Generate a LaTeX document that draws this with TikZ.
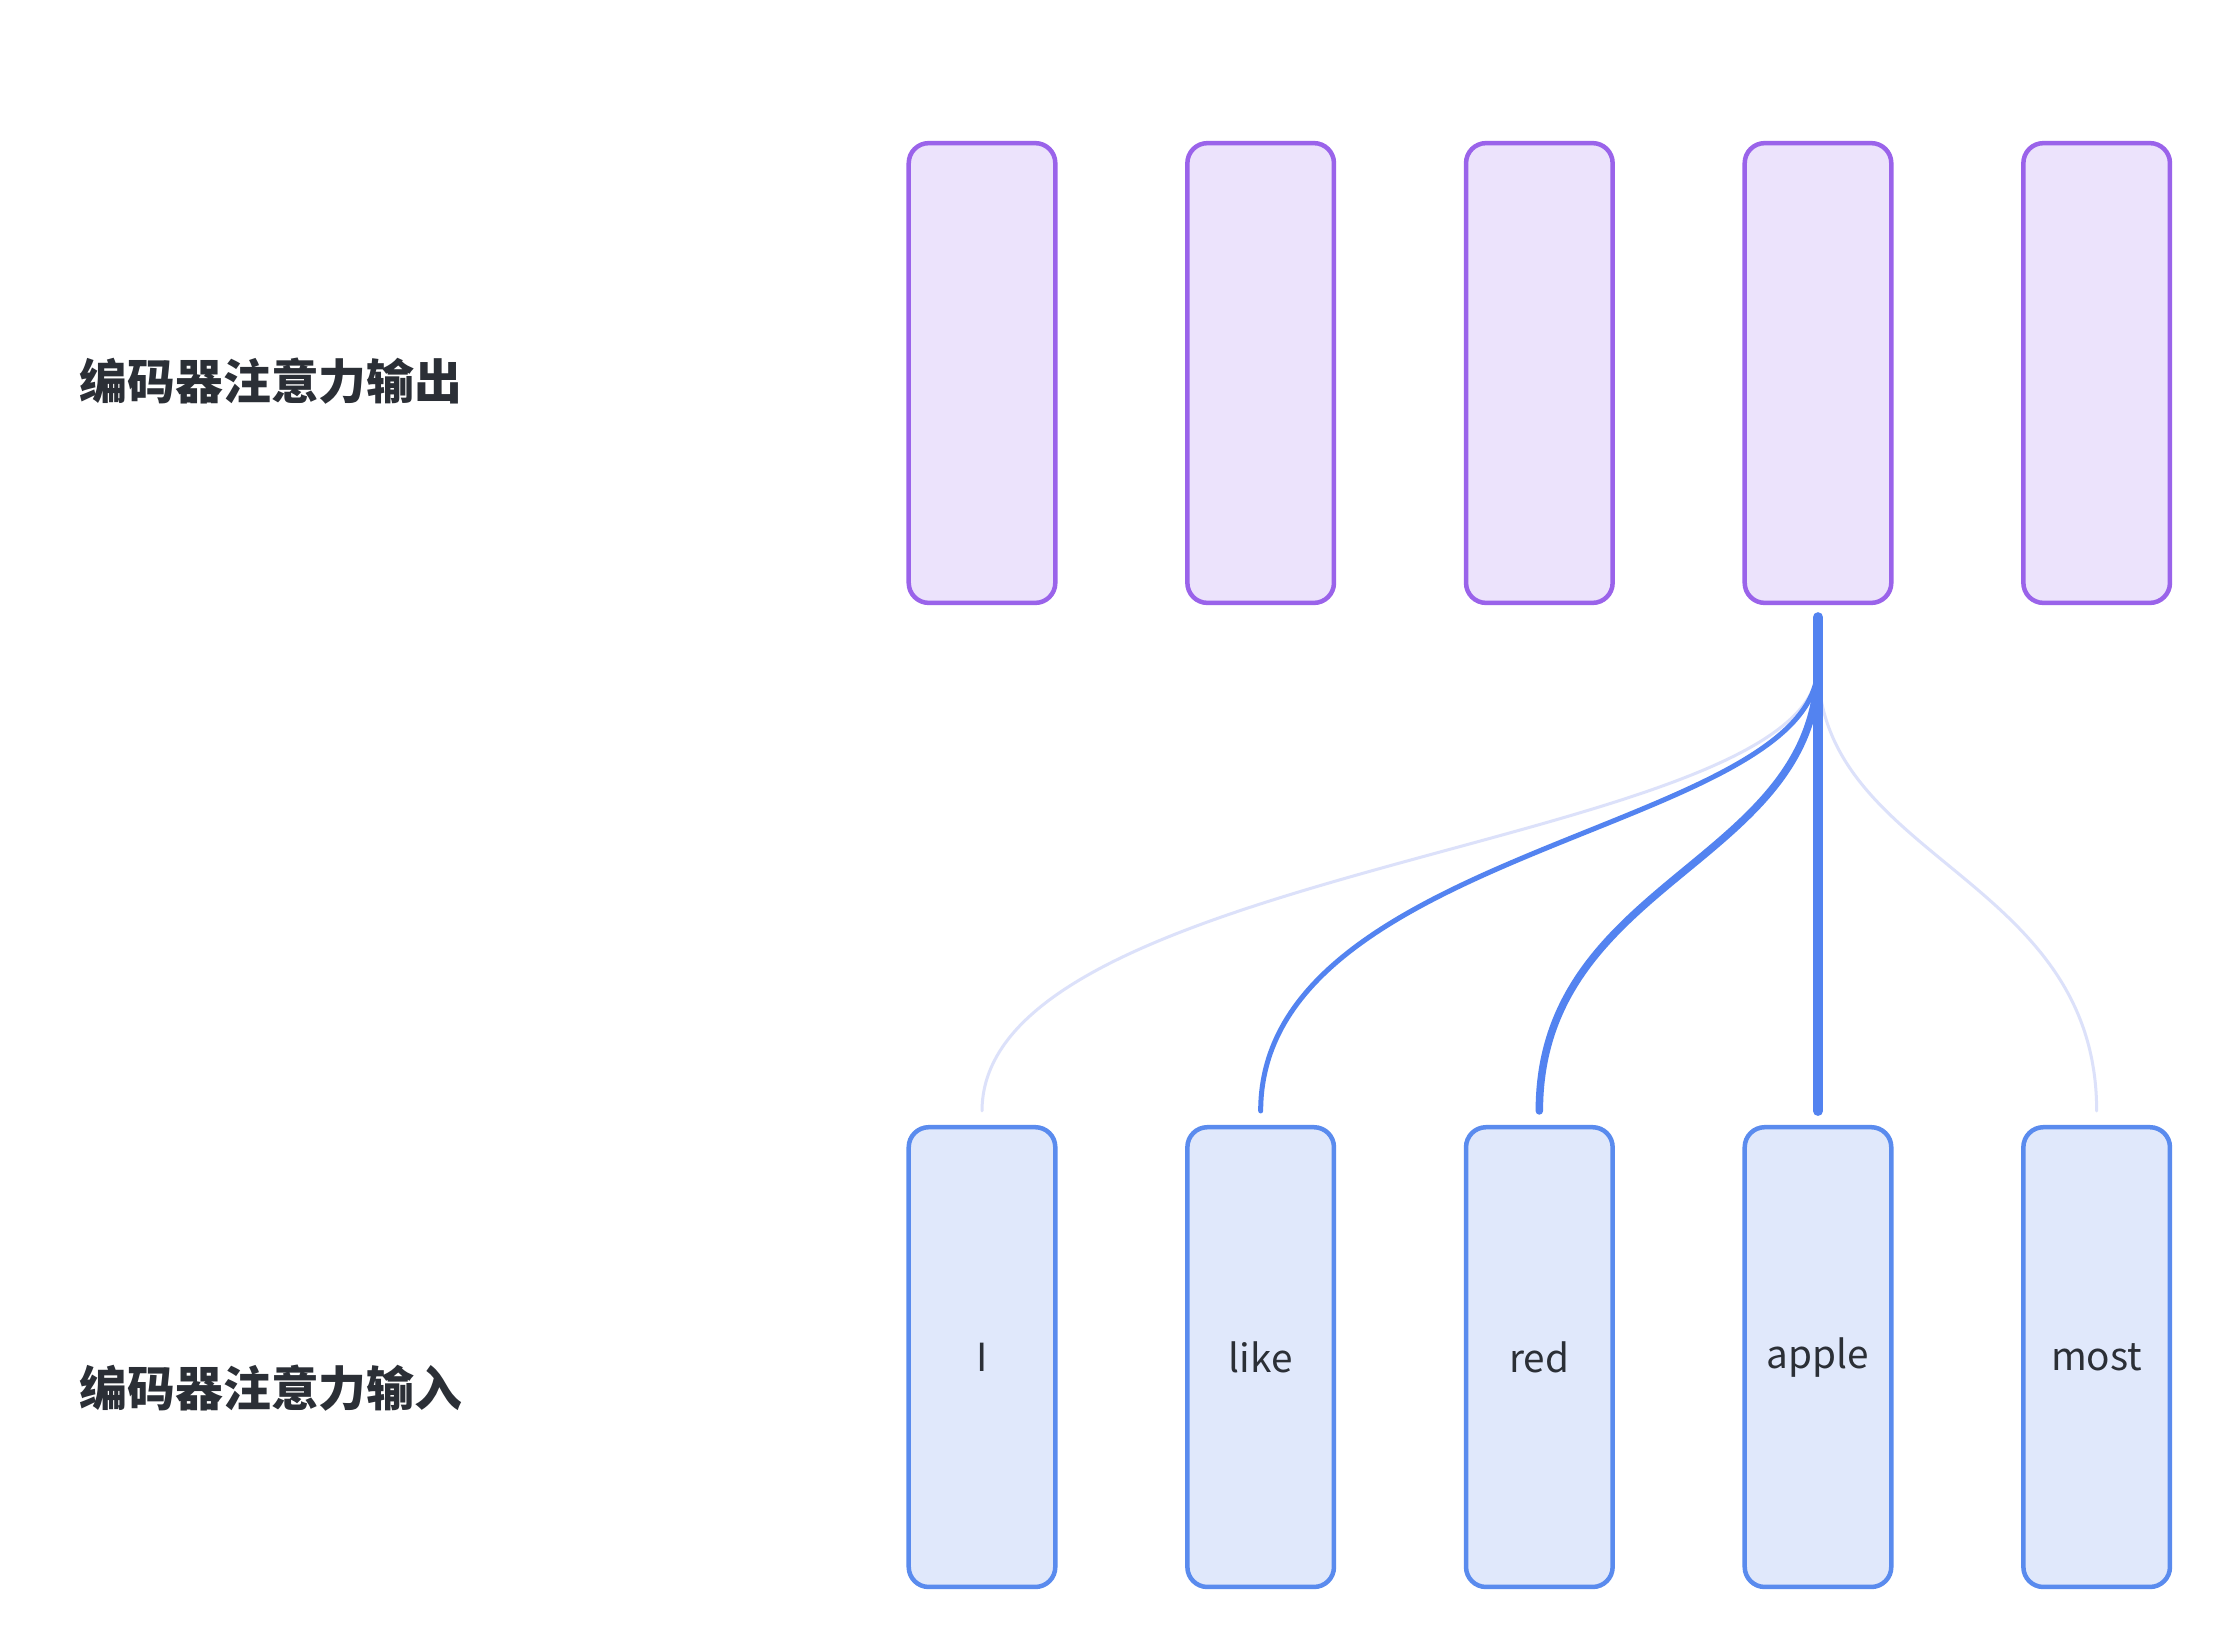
\documentclass[tikz,border=0pt]{standalone}
\usepackage{fontspec}
\setmainfont{Noto Sans}
\newfontfamily\cjk{Noto Sans CJK SC}
\usepackage{xcolor}
\usetikzlibrary{positioning}

\definecolor{outdraw}{HTML}{9A63EA}
\definecolor{outfill}{HTML}{ECE3FC}
\definecolor{indraw}{HTML}{5A8BEE}
\definecolor{infill}{HTML}{E0E8FB}
\definecolor{attn}{HTML}{5383F0}
\definecolor{attnpale}{HTML}{DCE1FA}
\definecolor{ink}{HTML}{2B2F36}

\begin{document}
\begin{tikzpicture}[x=0.01cm,y=-0.01cm,node distance=1.275cm,
  outbox/.style={draw=outdraw,fill=outfill,line width=0.045cm,rounded corners=0.2cm,minimum width=1.465cm,minimum height=4.595cm},
  inbox/.style={outbox,draw=indraw,fill=infill,text=ink,font=\cjk\fontsize{11}{13}\selectfont},
  tag/.style={text=ink,font=\cjk\bfseries\fontsize{13.6}{16}\selectfont},
  link/.style={line cap=round,shorten <=0.14cm}]
  \useasboundingbox[fill=white] (0,0) rectangle (2228,1648);
  \node[tag] (tagout) at (271,381) {编码器注意力输出};
  \node[tag] (tagin) at (271,1388) {编码器注意力输入};
  \node[outbox] (out1) at (982,373) {};
  \node[outbox, right=of out1] (out2) {};
  \node[outbox, right=of out2] (out3) {};
  \node[outbox, right=of out3] (out4) {};
  \node[outbox, right=of out4] (out5) {};
  \node[inbox, below=5.195cm of out1] (in1) {I};
  \node[inbox, below=5.195cm of out2] (in2) {like};
  \node[inbox, below=5.195cm of out3] (in3) {red};
  \node[inbox, below=5.195cm of out4] (in4) {apple};
  \node[inbox, below=5.195cm of out5] (in5) {most};
  \coordinate[below=0.6cm of out4.south] (hub);
  % attention of "apple" over the inputs
  \draw[link,attnpale,line width=0.03cm] (in1.north) .. controls +(0,-263) and +(0,182) .. (hub);
  \draw[link,attnpale,line width=0.03cm] (in5.north) .. controls +(0,-250) and +(0,195) .. (hub);
  \draw[link,attn,line width=0.05cm] (in2.north) .. controls +(0,-279) and +(0,166) .. (hub);
  \draw[link,attn,line width=0.075cm] (in3.north) .. controls +(0,-246) and +(0,199) .. (hub);
  \draw[link,attn,line width=0.1cm,shorten >=0.12cm] (in4.north) -- (out4.south);
\end{tikzpicture}
\end{document}
